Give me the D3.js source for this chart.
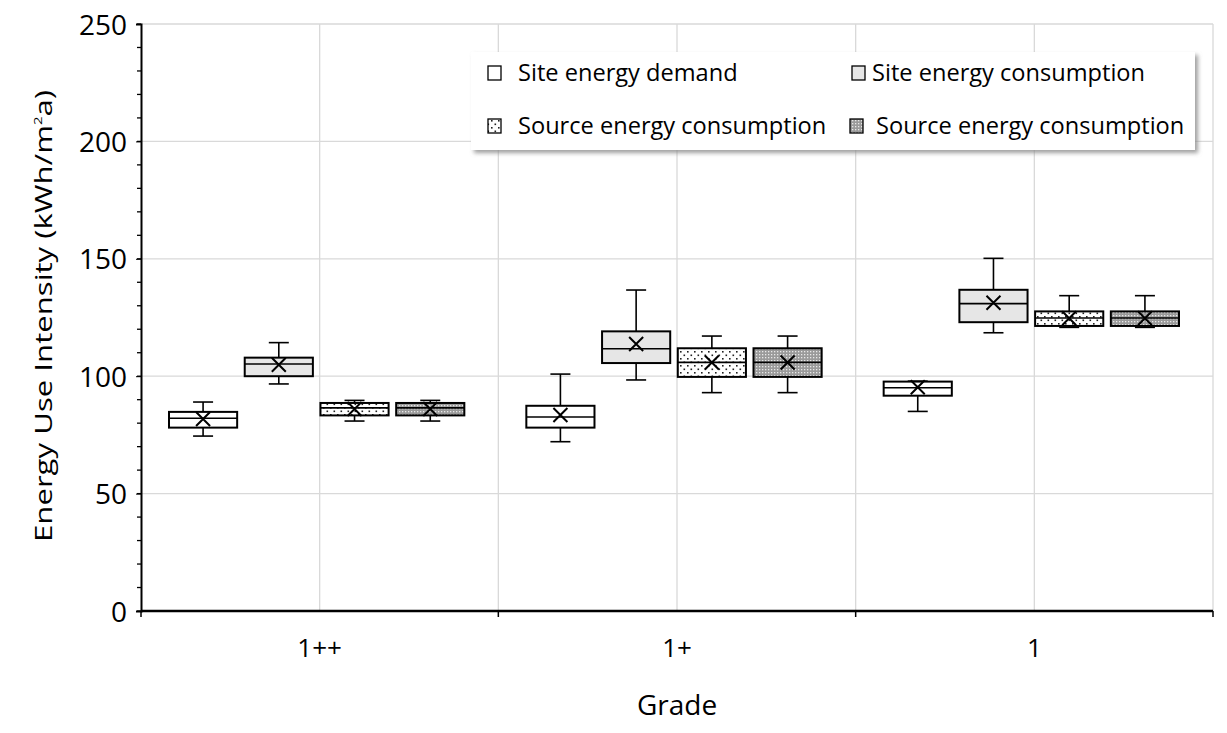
<!DOCTYPE html>
<html><head><meta charset="utf-8">
<script src="https://cdn.jsdelivr.net/npm/d3@7"></script>
<style>body{margin:0;background:#fff}svg{display:block}text{font-family:"Open Sans",sans-serif;fill:#000}</style>
</head><body><svg id="c" width="1227" height="733"></svg>
<script>
const categories = ["1++", "1+", "1"];
const seriesNames = ["Site energy demand", "Site energy consumption", "Source energy consumption", "Source energy consumption"];
const yTicks = [0, 50, 100, 150, 200, 250];
// per series, per category: [min, q1, median, q3, max, mean]
const siteDemand      = [[74.5, 78.1, 82.1, 84.8, 89.0, 81.8], [72.1, 78.1, 82.6, 87.4, 100.9, 83.5], [85.0, 91.7, 95.1, 97.7, 97.9, 95.3]];
const siteConsumption = [[96.7, 100.0, 105.2, 107.9, 114.3, 104.9], [98.4, 105.6, 111.7, 119.1, 136.7, 113.7], [118.5, 123.0, 130.9, 136.8, 150.2, 131.3]];
const sourceConsA     = [[80.9, 83.3, 86.5, 88.6, 89.7, 86.0], [93.0, 99.7, 105.9, 111.9, 117.1, 105.8], [120.8, 121.4, 124.8, 127.6, 134.3, 124.7]];
const sourceConsB     = [[80.9, 83.3, 86.5, 88.6, 89.7, 86.0], [93.0, 99.7, 105.9, 111.9, 117.1, 105.8], [120.8, 121.4, 124.8, 127.6, 134.3, 124.7]];
const seriesData = [siteDemand, siteConsumption, sourceConsA, sourceConsB];

const svg = d3.select("#c");
const L = 141, R = 1213, T = 24, B = 611;
const defs = svg.append("defs");
const p1 = defs.append("pattern").attr("id","dots").attr("patternUnits","userSpaceOnUse").attr("width",7).attr("height",7);
p1.append("rect").attr("width",7).attr("height",7).attr("fill","#fff");
p1.append("rect").attr("x",1).attr("y",1).attr("width",1.6).attr("height",1.6).attr("fill","#222");
p1.append("rect").attr("x",4.5).attr("y",4.5).attr("width",1.6).attr("height",1.6).attr("fill","#222");
const p2 = defs.append("pattern").attr("id","dense").attr("patternUnits","userSpaceOnUse").attr("width",3).attr("height",3);
p2.append("rect").attr("width",3).attr("height",3).attr("fill","#9a9a9a");
p2.append("rect").attr("x",0).attr("y",0).attr("width",1.3).attr("height",1.3).attr("fill","#e8e8e8");
const sh = defs.append("filter").attr("id","shadow").attr("x","-5%").attr("y","-10%").attr("width","115%").attr("height","130%");
sh.append("feDropShadow").attr("dx",3).attr("dy",3).attr("stdDeviation",2).attr("flood-color","#888").attr("flood-opacity",0.8);
const fills = ["#ffffff", "#e6e6e6", "url(#dots)", "url(#dense)"];

const y = d3.scaleLinear().domain([0, 250]).range([B, T]);
const x = d3.scaleBand().domain(categories).range([L, R]).padding(0);
const xs = d3.scaleBand().domain(d3.range(4)).range([28, x.bandwidth() - 34]).paddingInner(0.1);

// grid
const g = svg.append("g");
g.selectAll("line.h").data(yTicks.filter(d => d > 0)).join("line")
  .attr("x1", L).attr("x2", R).attr("y1", d => y(d)).attr("y2", d => y(d))
  .attr("stroke", "#d9d9d9").attr("stroke-width", 1.3);
const vg = [];
categories.forEach(c => { vg.push(x(c) + x.bandwidth() / 2); vg.push(x(c) + x.bandwidth()); });
g.selectAll("line.v").data(vg).join("line")
  .attr("x1", d => d).attr("x2", d => d).attr("y1", T).attr("y2", B)
  .attr("stroke", "#d9d9d9").attr("stroke-width", 1.3);

// boxes
categories.forEach((c, ci) => {
  seriesData.forEach((s, si) => {
    const [mn, q1, md, q3, mx, mean] = s[ci];
    const x0 = x(c) + xs(si), w = xs.bandwidth(), cx = x0 + w / 2;
    const bg = svg.append("g");
    bg.append("line").attr("x1", cx).attr("x2", cx).attr("y1", y(mx)).attr("y2", y(q3)).attr("stroke", "#000").attr("stroke-width", 1.6);
    bg.append("line").attr("x1", cx).attr("x2", cx).attr("y1", y(mn)).attr("y2", y(q1)).attr("stroke", "#000").attr("stroke-width", 1.6);
    [mn, mx].forEach(v => bg.append("line").attr("x1", cx - 10).attr("x2", cx + 10).attr("y1", y(v)).attr("y2", y(v)).attr("stroke", "#000").attr("stroke-width", 1.6));
    bg.append("rect").attr("x", x0).attr("y", y(q3)).attr("width", w).attr("height", y(q1) - y(q3))
      .attr("fill", fills[si]).attr("stroke", "#000").attr("stroke-width", 2);
    bg.append("line").attr("x1", x0).attr("x2", x0 + w).attr("y1", y(md)).attr("y2", y(md)).attr("stroke", "#000").attr("stroke-width", 1.6);
    const m = 7, my = y(mean);
    bg.append("path").attr("d", `M${cx - m},${my - m}L${cx + m},${my + m}M${cx - m},${my + m}L${cx + m},${my - m}`)
      .attr("stroke", "#000").attr("stroke-width", 2);
  });
});

// y axis
const yAxis = d3.axisLeft(y).tickValues(yTicks).tickSize(5).tickPadding(9);
const ya = svg.append("g").attr("transform", `translate(${L},0)`).call(yAxis);
ya.select(".domain").attr("stroke-width", 2);
ya.selectAll("text").style("font-size", "28px").attr("dy", "0.36em");
const minor = d3.range(0, 251, 10);
svg.append("g").selectAll("line").data(minor).join("line")
  .attr("x1", L - 4).attr("x2", L).attr("y1", d => y(d)).attr("y2", d => y(d)).attr("stroke", "#000").attr("stroke-width", 1.3);

// x axis
const xa = svg.append("g").attr("transform", `translate(0,${B})`);
xa.append("line").attr("x1", L).attr("x2", R).attr("y1", 0).attr("y2", 0).attr("stroke", "#000").attr("stroke-width", 2.5);
const bounds = [L].concat(categories.map(c => x(c) + x.bandwidth()));
xa.selectAll("line.t").data(bounds).join("line").attr("x1", d => d).attr("x2", d => d).attr("y1", 0).attr("y2", 6).attr("stroke", "#000").attr("stroke-width", 1.5);
xa.selectAll("text").data(categories).join("text")
  .attr("x", d => x(d) + x.bandwidth() / 2).attr("y", 46).attr("text-anchor", "middle").style("font-size", "26px").text(d => d);

// axis titles
svg.append("text").attr("x", 677).attr("y", 715).attr("text-anchor", "middle").style("font-size", "28px").text("Grade");
svg.append("text").attr("transform", "translate(52,316) rotate(-90)").attr("text-anchor", "middle").style("font-size", "23px")
  .attr("textLength", 452).attr("lengthAdjust", "spacingAndGlyphs")
  .html('Energy Use Intensity (kWh/m<tspan dy="-10" font-size="11">2</tspan><tspan dy="10">a)</tspan>');

// legend
const lg = svg.append("g");
lg.append("rect").attr("x", 471).attr("y", 52).attr("width", 724).attr("height", 98).attr("fill", "#fff").attr("filter", "url(#shadow)");
const legPos = [[488, 73], [852, 73], [488, 126], [850, 126]];
const textOff = [30, 20, 30, 26];
seriesNames.forEach((n, i) => {
  const [lx, ly] = legPos[i];
  lg.append("rect").attr("x", lx).attr("y", ly - 7).attr("width", 13).attr("height", 14)
    .attr("fill", fills[i]).attr("stroke", "#000").attr("stroke-width", 1.3);
  lg.append("text").attr("x", lx + textOff[i]).attr("y", ly + 8).style("font-size", "23.6px").text(n);
});
</script></body></html>
